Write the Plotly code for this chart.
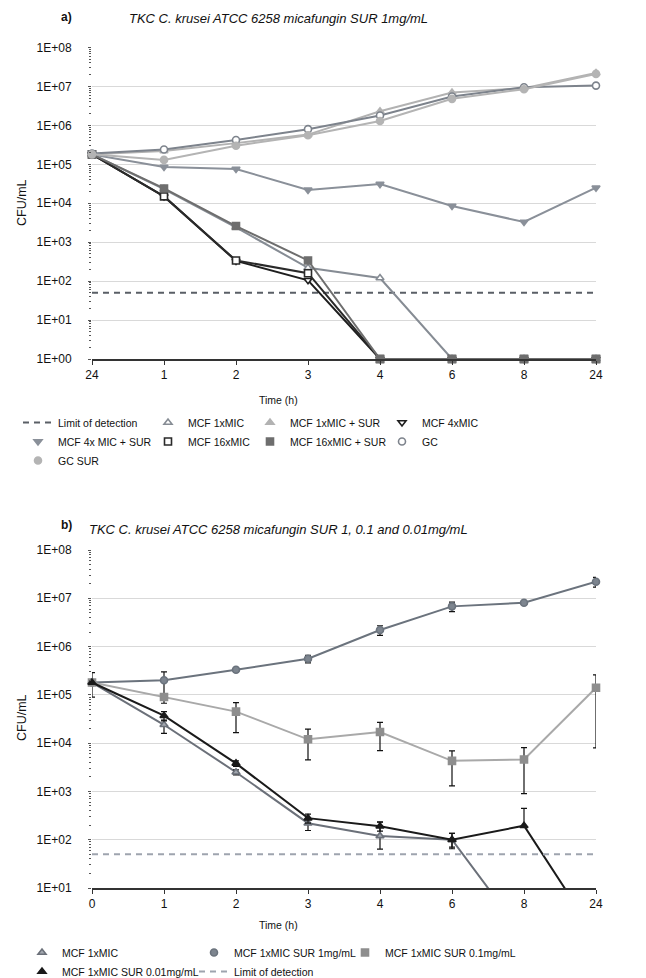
import plotly.graph_objects as go

W, H = 646, 978

# ---------------- data ----------------
x_idx = [0, 1, 2, 3, 4, 5, 6, 7]
time_labels_a = ["24", "1", "2", "3", "4", "6", "8", "24"]
time_labels_b = ["0", "1", "2", "3", "4", "6", "8", "24"]
lod_value = 50

# panel a
gc = [1.9e5, 2.4e5, 4.2e5, 8.0e5, 1.8e6, 5.5e6, 9.5e6, 1.05e7]
gc_sur = [1.8e5, 1.3e5, 3.0e5, 5.6e5, 1.3e6, 4.8e6, 8.5e6, 2.1e7]
mcf1 = [1.8e5, 2.3e4, 2.4e3, 2.2e2, 1.2e2, 1, 1, 1]
mcf1_sur = [1.8e5, 2.2e5, 3.5e5, 5.8e5, 2.3e6, 7.0e6, 9.0e6, 2.2e7]
mcf4 = [1.8e5, 1.5e4, 3.3e2, 1.05e2, 1, 1, 1, 1]
mcf4_sur = [1.8e5, 8.5e4, 7.6e4, 2.2e4, 3.1e4, 8.5e3, 3.3e3, 2.5e4]
mcf16 = [1.8e5, 1.5e4, 3.4e2, 1.6e2, 1, 1, 1, 1]
mcf16_sur = [1.8e5, 2.4e4, 2.6e3, 3.4e2, 1, 1, 1, 1]

# panel b
b_mcf1 = [1.8e5, 2.4e4, 2.5e3, 2.2e2, 1.2e2, 1.0e2, 1, 1]
b_mcf1_ep = [0, 6e3, 3e2, 4e1, 1.15e2, 3.5e1, 0, 0]
b_mcf1_em = [0, 8e3, 3e2, 6.5e1, 5.6e1, 3.0e1, 0, 0]
b_sur1 = [1.8e5, 2.0e5, 3.3e5, 5.6e5, 2.2e6, 6.8e6, 8.1e6, 2.2e7]
b_sur1_ep = [1.1e5, 1.0e5, 3e4, 1e5, 5e5, 1.5e6, 3e5, 5e6]
b_sur1_em = [9e4, 1.0e5, 3e4, 1e5, 5e5, 1.5e6, 3e5, 5e6]
b_sur01 = [1.8e5, 9.0e4, 4.5e4, 1.2e4, 1.7e4, 4.3e3, 4.6e3, 1.4e5]
b_sur01_ep = [0, 1.5e4, 2.4e4, 7.5e3, 1.0e4, 2.6e3, 3.5e3, 1.2e5]
b_sur01_em = [0, 2.3e4, 2.85e4, 7.5e3, 1.0e4, 3.0e3, 3.7e3, 1.32e5]
b_sur001 = [1.8e5, 3.7e4, 3.8e3, 2.8e2, 1.9e2, 1.0e2, 1.95e2, 1]
b_sur001_ep = [0, 8e3, 5e2, 6e1, 4e1, 3.5e1, 2.5e2, 0]
b_sur001_em = [0, 8e3, 5e2, 6e1, 4e1, 3.5e1, 0, 0]

# ---------------- figure ----------------
fig = go.Figure()
FONT = "Liberation Sans, Arial, Helvetica, sans-serif"


def add_series(xa, ya, legend, rank, name, vals, lcolor, symbol, mcolor, mlcolor,
               ymin=None, ep=None, em=None, size=7, lw=2):
    fig.add_trace(go.Scatter(
        x=x_idx, y=vals, mode="lines", xaxis=xa, yaxis=ya,
        line=dict(color=lcolor, width=lw), showlegend=False, hoverinfo="skip"))
    mv = vals if ymin is None else [v if v >= ymin else None for v in vals]
    kw = {}
    if ep is not None:
        kw["error_y"] = dict(type="data", array=ep, arrayminus=em, symmetric=False,
                             color="#111111", thickness=1.2, width=3)
    fig.add_trace(go.Scatter(
        x=x_idx, y=mv, mode="markers", xaxis=xa, yaxis=ya, name=name,
        legend=legend, legendrank=rank, cliponaxis=False,
        marker=dict(symbol=symbol, size=size, color=mcolor,
                    line=dict(color=mlcolor, width=1.6)), **kw))


def add_lod(xa, ya, legend, rank, color):
    fig.add_trace(go.Scatter(
        x=x_idx, y=[lod_value] * len(x_idx), mode="lines", xaxis=xa, yaxis=ya,
        name="Limit of detection", legend=legend, legendrank=rank,
        line=dict(color=color, width=2, dash="6px,5px")))


# panel a traces
add_lod("x", "y", "legend", 1, "#5a5f66")
add_series("x", "y", "legend2", 1, "MCF 1xMIC", mcf1, "#868c94", "triangle-up", "#ffffff", "#868c94")
add_series("x", "y", "legend3", 1, "MCF 1xMIC + SUR", mcf1_sur, "#b2b2b2", "triangle-up", "#b2b2b2", "#b2b2b2")
add_series("x", "y", "legend4", 1, "MCF 4xMIC", mcf4, "#1e1e1e", "triangle-down", "#ffffff", "#1e1e1e")
add_series("x", "y", "legend", 2, "MCF 4x MIC + SUR", mcf4_sur, "#8a9099", "triangle-down", "#8a9099", "#8a9099")
add_series("x", "y", "legend2", 2, "MCF 16xMIC", mcf16, "#2a2a2a", "square", "#ffffff", "#2a2a2a")
add_series("x", "y", "legend3", 2, "MCF 16xMIC + SUR", mcf16_sur, "#6e6e6e", "square", "#6e6e6e", "#6e6e6e")
add_series("x", "y", "legend4", 2, "GC", gc, "#7d838c", "circle", "#ffffff", "#7d838c")
add_series("x", "y", "legend", 3, "GC SUR", gc_sur, "#b4b4b4", "circle", "#b4b4b4", "#b4b4b4")

# panel b traces
add_series("x2", "y2", "legend5", 1, "MCF 1xMIC", b_mcf1, "#6b7079", "triangle-up", "#a3a8b0", "#6b7079",
           ymin=10, ep=b_mcf1_ep, em=b_mcf1_em)
add_series("x2", "y2", "legend6", 1, "MCF 1xMIC SUR 1mg/mL", b_sur1, "#6b737d", "circle", "#7d858f", "#6b737d",
           ymin=10, ep=b_sur1_ep, em=b_sur1_em)
add_series("x2", "y2", "legend7", 1, "MCF 1xMIC SUR 0.1mg/mL", b_sur01, "#a9a9a9", "square", "#8e8e8e", "#8e8e8e",
           ymin=10, ep=b_sur01_ep, em=b_sur01_em)
add_series("x2", "y2", "legend5", 2, "MCF 1xMIC SUR 0.01mg/mL", b_sur001, "#1a1a1a", "triangle-up", "#1a1a1a", "#1a1a1a",
           ymin=10, ep=b_sur001_ep, em=b_sur001_em)
add_lod("x2", "y2", "legend6", 2, "#9ea4ae")

# ---------------- axes ----------------
xdom = [92 / W, 596 / W]
ytop = [1 - 359 / H, 1 - 47.5 / H]
ybot = [1 - 888 / H, 1 - 550 / H]

minor_vals = [m * 10 ** k for k in range(0, 8) for m in range(2, 10)]


def xaxis(labels, anchor):
    return dict(domain=xdom, anchor=anchor, range=[0, 7], tickmode="array",
                tickvals=x_idx, ticktext=labels, showgrid=False, zeroline=False,
                showline=True, linecolor="#333333", linewidth=1.5,
                ticks="outside", ticklen=4, tickwidth=1.2, tickcolor="#333333",
                tickfont=dict(size=12, color="#111111", family=FONT))


def xaxis_inner(anchor, over):
    return dict(domain=xdom, anchor=anchor, overlaying=over, range=[0, 7], tickmode="array",
                tickvals=x_idx, showticklabels=False, showgrid=False, zeroline=False,
                showline=False, ticks="inside", ticklen=4, tickwidth=1.2, tickcolor="#333333")


def yaxis(dom, lo, anchor):
    vals = [10 ** k for k in range(lo, 9)]
    return dict(domain=dom, anchor=anchor, type="log", range=[lo, 8],
                tickmode="array", tickvals=vals,
                ticktext=["1E+%02d" % k for k in range(lo, 9)],
                showgrid=True, gridcolor="#d9d9d9", gridwidth=1,
                showline=False, zeroline=False,
                ticks="outside", ticklen=3, tickwidth=1, tickcolor="#555555",
                ticklabelstandoff=14,
                minor=dict(tickmode="array", tickvals=minor_vals, ticks="outside",
                           ticklen=2, tickwidth=1, tickcolor="#555555", showgrid=False),
                tickfont=dict(size=12, color="#111111", family=FONT))


def legend_at(text_x, top_y):
    return dict(orientation="v", x=(text_x - 40) / W, y=1 - top_y / H,
                xanchor="left", yanchor="top", bgcolor="rgba(0,0,0,0)",
                font=dict(size=10.5, color="#111111", family=FONT), itemwidth=30)


top_leg_y = 408
bot_leg_y = 938

fig.update_layout(
    width=W, height=H,
    margin=dict(l=0, r=0, t=0, b=0, autoexpand=False),
    paper_bgcolor="white", plot_bgcolor="white",
    font=dict(family=FONT, color="#111111"),
    xaxis=xaxis(time_labels_a, "y"),
    yaxis=yaxis(ytop, 0, "x"),
    xaxis2=xaxis(time_labels_b, "y2"),
    yaxis2=yaxis(ybot, 1, "x2"),
    xaxis3=xaxis_inner("y", "x"),
    xaxis4=xaxis_inner("y2", "x2"),
    legend=legend_at(58, top_leg_y),
    legend2=legend_at(188, top_leg_y),
    legend3=legend_at(290, top_leg_y),
    legend4=legend_at(422, top_leg_y),
    legend5=legend_at(62, bot_leg_y),
    legend6=legend_at(234, bot_leg_y),
    legend7=legend_at(385, bot_leg_y),
    showlegend=True,
)


def ann(text, x, y, size, angle=0, italic=False, bold=False):
    if bold:
        text = "<b>" + text + "</b>"
    if italic:
        text = "<i>" + text + "</i>"
    fig.add_annotation(text=text, x=x / W, y=1 - y / H, xref="paper", yref="paper",
                       showarrow=False, textangle=angle, xanchor="center", yanchor="middle",
                       font=dict(size=size, color="#111111", family=FONT))


ann("a)", 66, 17, 12, bold=True)
ann("TKC C. krusei ATCC 6258 micafungin SUR 1mg/mL", 278, 18, 13, italic=True)
ann("b)", 66, 525, 12, bold=True)
ann("TKC C. krusei ATCC 6258 micafungin SUR 1, 0.1 and 0.01mg/mL", 278, 529, 13, italic=True)
ann("Time (h)", 278, 400, 10.5)
ann("Time (h)", 278, 925, 10.5)
ann("CFU/mL", 22, 203, 12.5, angle=-90)
ann("CFU/mL", 22, 718, 12.5, angle=-90)

fig.write_html("out.html")
